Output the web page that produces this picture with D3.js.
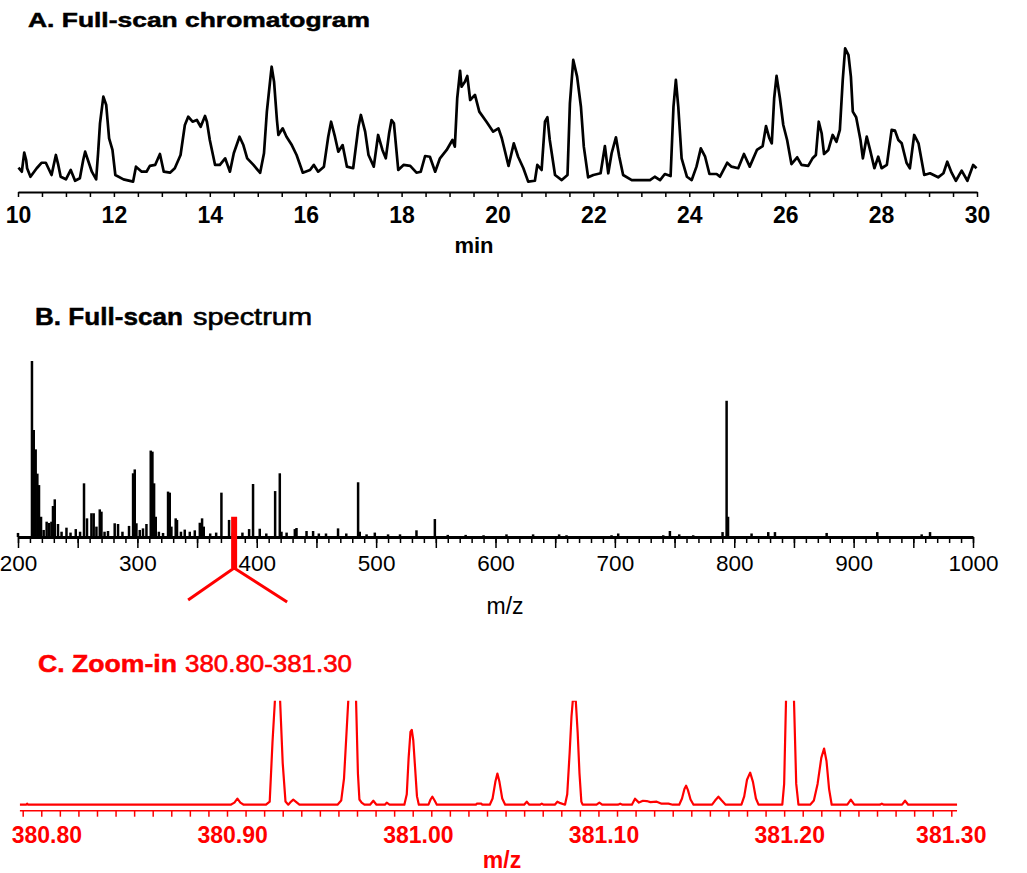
<!DOCTYPE html>
<html>
<head>
    <meta charset="utf-8" />
    <title>Full-scan chromatogram and spectrum</title>
    <script src="https://cdn.jsdelivr.net/npm/d3@7"></script>
    <style>
        body { margin: 0; background: #fff; }
        text { font-family: "Liberation Sans", Arial, sans-serif; }
    </style>
</head>
<body>
<div id="chart"></div>
<script>
    // A. full-scan chromatogram: [minutes, relative intensity]
    var chromatogram = [
        [10.01,16.9],[10.08,14.1],[10.13,27.3],[10.17,22.2],[10.19,16.5],[10.26,10.6],[10.39,16.5],[10.49,20.3],
        [10.58,20.3],[10.70,11.8],[10.79,25.7],[10.84,18.8],[10.89,10.6],[11.00,8.8],[11.10,15.3],[11.19,7.8],
        [11.29,9.5],[11.36,22.2],[11.40,28.0],[11.47,21.0],[11.54,14.1],[11.63,8.8],[11.67,26.9],[11.71,47.7],
        [11.78,66.2],[11.84,60.4],[11.90,37.3],[11.97,29.2],[12.03,11.8],[12.20,8.8],[12.40,7.2],[12.46,17.6],
        [12.58,14.1],[12.68,14.1],[12.75,18.1],[12.86,18.8],[12.96,26.4],[13.04,14.1],[13.17,13.4],[13.27,16.5],
        [13.39,25.7],[13.48,46.5],[13.55,52.3],[13.64,48.8],[13.73,50.0],[13.81,45.3],[13.90,52.8],[13.94,48.8],
        [14.00,36.1],[14.11,18.8],[14.21,18.8],[14.32,23.4],[14.42,14.1],[14.50,26.9],[14.62,38.4],[14.70,32.6],
        [14.78,23.4],[14.91,18.8],[15.01,14.8],[15.05,13.4],[15.13,26.9],[15.19,55.8],[15.26,77.8],[15.29,87.0],
        [15.34,76.6],[15.40,50.0],[15.43,39.6],[15.52,44.2],[15.60,38.4],[15.71,32.6],[15.81,25.7],[15.94,13.4],
        [16.09,15.3],[16.17,18.8],[16.26,14.1],[16.38,17.6],[16.47,38.4],[16.53,48.8],[16.61,38.4],[16.68,28.0],
        [16.77,32.6],[16.86,17.6],[16.99,16.5],[17.10,45.3],[17.15,53.5],[17.24,41.9],[17.31,25.7],[17.42,17.6],
        [17.51,39.6],[17.60,29.2],[17.67,23.4],[17.74,40.8],[17.79,50.0],[17.84,47.7],[17.93,15.3],[18.04,18.8],
        [18.18,18.1],[18.31,13.4],[18.40,14.1],[18.49,25.0],[18.59,24.5],[18.70,14.1],[18.80,23.4],[18.94,29.2],
        [19.06,36.1],[19.11,31.5],[19.16,65.1],[19.22,84.2],[19.25,73.1],[19.32,76.6],[19.37,80.6],[19.43,63.9],
        [19.53,67.4],[19.62,55.8],[19.77,48.8],[19.91,41.9],[20.02,44.2],[20.09,37.3],[20.23,18.1],[20.34,33.8],
        [20.43,24.5],[20.54,16.5],[20.64,7.2],[20.78,7.8],[20.83,18.8],[20.92,15.3],[20.99,48.8],[21.04,51.9],
        [21.09,36.1],[21.20,11.8],[21.34,8.3],[21.46,11.8],[21.51,61.6],[21.58,91.7],[21.66,80.1],[21.74,59.2],
        [21.80,31.5],[21.89,10.2],[22.00,11.8],[22.15,13.0],[22.24,31.9],[22.31,13.0],[22.38,26.9],[22.47,38.0],
        [22.54,24.5],[22.62,11.8],[22.80,8.3],[23.18,8.3],[23.28,10.6],[23.39,8.3],[23.49,12.5],[23.61,11.1],
        [23.67,59.2],[23.72,77.8],[23.77,59.2],[23.84,23.4],[23.95,10.6],[24.05,8.3],[24.15,17.6],[24.24,30.3],
        [24.33,24.5],[24.42,12.5],[24.57,12.5],[24.64,10.6],[24.79,20.3],[24.88,17.6],[25.02,16.5],[25.14,26.4],
        [25.26,17.6],[25.41,29.2],[25.53,31.9],[25.60,45.8],[25.67,37.3],[25.72,33.8],[25.77,65.1],[25.82,80.6],
        [25.89,65.1],[25.96,46.5],[26.04,36.1],[26.13,19.4],[26.25,24.1],[26.34,18.8],[26.48,18.1],[26.57,23.4],
        [26.64,25.7],[26.70,48.8],[26.76,40.8],[26.81,26.4],[26.90,29.2],[26.99,39.6],[27.07,34.9],[27.14,43.1],
        [27.20,77.8],[27.25,99.8],[27.32,95.1],[27.37,80.1],[27.41,55.8],[27.48,51.9],[27.57,36.1],[27.62,23.4],
        [27.70,38.4],[27.77,29.2],[27.86,16.5],[27.94,24.5],[28.01,16.5],[28.12,18.8],[28.22,43.1],[28.29,42.6],
        [28.36,36.1],[28.43,33.8],[28.53,20.3],[28.60,16.5],[28.69,39.6],[28.78,33.8],[28.90,11.8],[29.02,13.0],
        [29.19,10.2],[29.30,13.0],[29.38,21.0],[29.47,13.4],[29.56,7.8],[29.68,14.8],[29.80,7.8],[29.92,18.8],
        [29.99,16.5]
    ];
    var chromTicks = [10, 12, 14, 16, 18, 20, 22, 24, 26, 28, 30];

    // B. full-scan spectrum sticks: [m/z, relative intensity]
    var spectrum = [
        [200.0,2.3],[211.7,100],[213.2,60.8],[214.8,49.8],[216.2,36],[217.6,29.5],[219.3,11.5],[221.5,4],
        [224.0,8.7],[226.0,8.0],[228.0,8.7],[229.3,17.6],[230.8,21.4],[233.5,7.4],[236.5,3],[240.6,5.3],
        [244.0,2.5],[248.4,4.5],[252.0,3],[255.3,30.5],[257.8,10.6],[261.5,13.5],[263.4,13.5],[265.7,5.9],
        [268.5,15.7],[269.9,14.4],[272.5,3],[275.4,3.4],[281.0,7.8],[283.8,7.4],[287.5,3],[293.0,6.3],
        [296.4,36.2],[297.8,38.4],[299.2,7.8],[302.0,4],[304.7,4.9],[307.6,7.4],[311.2,49.1],[312.6,48.5],
        [314.0,30.5],[315.4,11.5],[318.0,3],[321.5,2.3],[325.7,25.8],[327.1,25.2],[328.5,5.9],[332.1,10.6],
        [333.2,9.7],[336.5,3],[339.7,4.2],[343.9,3.0],[348.1,3.8],[352.3,8.1],[354.2,10.6],[355.6,5.9],
        [361.0,2],[366.0,2.5],[370.4,25.2],[376.8,9.7],[380.0,2.5],[388.0,2.5],[393.6,4.5],[396.9,30.1],
        [402.5,4.7],[408.0,2],[415.4,26.1],[419.3,36.2],[420.7,3],[425.0,2.5],[431.9,4.5],[433.3,5.1],
        [441.7,3.4],[447.2,3.4],[452.0,2],[458.0,2],[468.1,4.9],[475.0,2],[484.9,31.1],[486.3,3],
        [492.0,1.5],[498.9,2.5],[510.0,1.5],[520.0,1.5],[533.8,3.8],[549.2,10.2],[560.0,1.2],[575.0,1.2],
        [590.0,1],[609.2,1.5],[631.5,1.5],[653.3,1.5],[659.5,1],[697.2,1],[702.8,2],[740.5,1],
        [746.1,3.4],[753.9,1.5],[765.6,1],[790.2,2.8],[793.6,77.4],[794.8,11.5],[814.5,2],[828.5,2.8],
        [834.1,2.8],[877.4,2.3],[919.8,2.8],[957.0,1.5],[964.0,2.8]
    ];
    var spectrumTicks = [200, 300, 400, 500, 600, 700, 800, 900, 1000];

    // C. zoom-in profile: [m/z, relative intensity], clipped at 100
    var zoomRange = [380.80, 381.30];
    var zoomProfile = [
        [380.7985,0],[380.8020,0],[380.8024,1],[380.8028,0],
        [380.9120,0],[380.9140,2],[380.9156,5.8],[380.9172,2],[380.9190,0],
        [380.9310,0],[380.9330,3],[380.9345,60],[380.9358,100],[380.9371,120],[380.9386,100],[380.9400,40],[380.9415,3],[380.9430,0],
        [380.9445,3],[380.9457,4.8],[380.9470,3],[380.9490,0],
        [380.9695,0],[380.9715,4],[380.9730,25],[380.9753,100],[380.9774,145],[380.9795,100],[380.9805,30],[380.9813,5],[380.9825,2],[380.9840,0],
        [380.9870,0],[380.9888,3.8],[380.9905,0],
        [380.9950,0],[380.9960,1.9],[380.9975,0],
        [381.0055,0],[381.0068,10],[381.0078,45],[381.0088,70],[381.0095,72],[381.0103,62],[381.0113,35],[381.0123,8],[381.0133,0],
        [381.0185,0],[381.0196,5],[381.0206,7.7],[381.0218,4],[381.0230,0],
        [381.0440,0],[381.0445,1],[381.0470,1],[381.0475,0],
        [381.0515,0],[381.0530,6],[381.0545,22],[381.0556,30],[381.0567,22],[381.0582,6],[381.0598,0],
        [381.0700,0],[381.0714,2.9],[381.0728,0],
        [381.0785,0],[381.0795,1],[381.0805,0],
        [381.0865,0],[381.0879,2.9],[381.0895,1.5],[381.0920,0],[381.0932,10],[381.0945,50],[381.0955,85],[381.0962,100],[381.0978,100],[381.0988,70],[381.0998,30],[381.1008,3],[381.1015,0],
        [381.1090,0],[381.1105,1.9],[381.1120,0],
        [381.1205,0],[381.1217,1],[381.1230,0],
        [381.1280,0],[381.1297,5.8],[381.1318,2],[381.1340,3.8],[381.1360,3.5],[381.1380,2.5],[381.1414,2.9],[381.1440,1],[381.1477,1],[381.1500,0],
        [381.1535,0],[381.1550,6],[381.1563,15],[381.1572,18.3],[381.1582,14],[381.1596,5],[381.1612,0],
        [381.1712,0],[381.1728,4],[381.1746,7.7],[381.1764,4],[381.1785,0],
        [381.1870,0],[381.1885,8],[381.1900,24],[381.1917,30.8],[381.1932,22],[381.1948,6],[381.1962,0],
        [381.2090,0],[381.2100,20],[381.2110,100],[381.2132,150],[381.2153,100],[381.2165,20],[381.2177,0],
        [381.2240,0],[381.2260,4],[381.2280,20],[381.2300,45],[381.2315,54],[381.2328,42],[381.2342,15],[381.2356,0],
        [381.2440,0],[381.2459,4.8],[381.2478,0],
        [381.2615,0],[381.2626,1],[381.2637,0],
        [381.2735,0],[381.2751,3.8],[381.2768,0],
        [381.3031,0]
    ];
    var zoomTicks = [380.80, 380.90, 381.00, 381.10, 381.20, 381.30];

    var w = 1027;
    var h = 873;
    var red = "#ff0000";

    var svg = d3.select("#chart")
        .append("svg")
        .attr("width", w)
        .attr("height", h);

    // titles, stretched a bit like the scanned original
    function title(str, x, y, size, weight, color, len) {
        return svg.append("text")
            .attr("x", x)
            .attr("y", y)
            .attr("font-size", size)
            .attr("font-weight", weight)
            .attr("fill", color)
            .attr("stroke", color)
            .attr("stroke-width", weight === "bold" ? 0.5 : 0.6)
            .attr("textLength", len)
            .attr("lengthAdjust", "spacingAndGlyphs")
            .text(str);
    }
    title("A. Full-scan chromatogram", 28, 27, 21, "bold", "#000", 342);
    title("B. Full-scan", 35, 325, 24.5, "bold", "#000", 148);
    title("spectrum", 193, 325, 24.5, "normal", "#000", 119);
    title("C. Zoom-in", 38, 672, 24, "bold", red, 139);
    title("380.80-381.30", 185, 672, 24, "normal", red, 167);

    // ---------- A ----------
    var xA = d3.scaleLinear().domain([10, 30]).range([18, 977]);
    var yA = d3.scaleLinear().domain([0, 100]).range([192, 48]);

    var axisA = svg.append("g")
        .attr("transform", "translate(0,192)")
        .call(d3.axisBottom(xA)
            .tickValues(d3.range(10, 30.5, 0.5))
            .tickSize(5)
            .tickSizeOuter(0)
            .tickPadding(10)
            .tickFormat(function (d) { return chromTicks.indexOf(d) >= 0 ? d : ""; }));
    axisA.attr("font-size", 23).attr("font-weight", "bold").attr("font-family", null);
    axisA.select(".domain").attr("stroke-width", 2);
    axisA.selectAll(".tick line").attr("stroke-width", 1.5);
    axisA.selectAll(".tick text").attr("fill", "#000");

    svg.append("path")
        .datum(chromatogram)
        .attr("fill", "none")
        .attr("stroke", "#000")
        .attr("stroke-width", 2.7)
        .attr("stroke-linejoin", "round")
        .attr("d", d3.line()
            .x(function (d) { return xA(d[0]); })
            .y(function (d) { return yA(d[1]); }));

    svg.append("text")
        .attr("x", 474)
        .attr("y", 253)
        .attr("text-anchor", "middle")
        .attr("font-size", 22)
        .attr("font-weight", "bold")
        .text("min");

    // ---------- B ----------
    var xB = d3.scaleLinear().domain([200, 1000]).range([18, 973]);
    var yB = d3.scaleLinear().domain([0, 100]).range([537, 361]);

    var minorB = svg.append("g")
        .attr("transform", "translate(0,537)")
        .call(d3.axisBottom(xB)
            .tickValues(d3.range(200, 1001, 10))
            .tickSize(6)
            .tickSizeOuter(0)
            .tickFormat(""));
    minorB.select(".domain").remove();
    minorB.selectAll(".tick line").attr("stroke-width", 1.5);

    var majorB = svg.append("g")
        .attr("transform", "translate(0,537)")
        .call(d3.axisBottom(xB)
            .tickValues(d3.range(200, 1001, 50))
            .tickSize(11)
            .tickSizeOuter(0)
            .tickPadding(7)
            .tickFormat(function (d) { return spectrumTicks.indexOf(d) >= 0 ? d : ""; }));
    majorB.attr("font-size", 22.5).attr("font-family", null);
    majorB.select(".domain").attr("stroke-width", 3);
    majorB.selectAll(".tick line").attr("stroke-width", 1.5);
    majorB.selectAll(".tick text").attr("fill", "#000");

    svg.selectAll("line.stick")
        .data(spectrum)
        .enter()
        .append("line")
        .attr("class", "stick")
        .attr("x1", function (d) { return xB(d[0]); })
        .attr("x2", function (d) { return xB(d[0]); })
        .attr("y1", yB(0))
        .attr("y2", function (d) { return yB(d[1]); })
        .attr("stroke", "#000")
        .attr("stroke-width", 2.5);

    svg.append("text")
        .attr("x", 505)
        .attr("y", 614)
        .attr("text-anchor", "middle")
        .attr("font-size", 23)
        .text("m/z");

    // red marker pointing at the zoomed window
    var markX = xB(d3.mean(zoomRange));
    var markY = yB(0) + 31;
    svg.append("line")
        .attr("x1", markX).attr("x2", markX)
        .attr("y1", yB(11.5)).attr("y2", markY)
        .attr("stroke", red).attr("stroke-width", 6);
    svg.append("path")
        .attr("d", "M" + (markX - 46) + "," + (markY + 32) + "L" + markX + "," + markY + "L" + (markX + 53) + "," + (markY + 34))
        .attr("fill", "none")
        .attr("stroke", red)
        .attr("stroke-width", 3);

    // ---------- C ----------
    var xC = d3.scaleLinear().domain(zoomRange).range([22.7, 951.3]);
    var yC = d3.scaleLinear().domain([0, 100]).range([804.7, 700.7]);

    svg.append("clipPath")
        .attr("id", "clipC")
        .append("rect")
        .attr("x", 0).attr("y", yC(100))
        .attr("width", w).attr("height", h - yC(100));

    svg.append("path")
        .datum(zoomProfile)
        .attr("clip-path", "url(#clipC)")
        .attr("fill", "none")
        .attr("stroke", red)
        .attr("stroke-width", 2.2)
        .attr("stroke-linejoin", "round")
        .attr("d", d3.line()
            .x(function (d) { return xC(d[0]); })
            .y(function (d) { return yC(d[1]); }));

    var axisCy = 810.7;
    svg.append("line")
        .attr("x1", xC(zoomProfile[0][0]))
        .attr("x2", xC(zoomProfile[zoomProfile.length - 1][0]))
        .attr("y1", axisCy).attr("y2", axisCy)
        .attr("stroke", red).attr("stroke-width", 1.5);

    var axisC = svg.append("g")
        .attr("transform", "translate(0," + axisCy + ")")
        .call(d3.axisBottom(xC)
            .tickValues(d3.range(0, 51).map(function (i) { return 380.80 + i / 100; }))
            .tickSize(6)
            .tickSizeOuter(0)
            .tickFormat(""));
    axisC.select(".domain").remove();
    axisC.selectAll(".tick line").attr("stroke", red).attr("stroke-width", 1.5);

    // the original sets its labels right of their ticks, the last one is pulled back
    svg.selectAll("text.zl")
        .data(zoomTicks)
        .enter()
        .append("text")
        .attr("class", "zl")
        .attr("x", function (d, i) { return i === zoomTicks.length - 1 ? xC(d) : xC(d) - 11; })
        .attr("y", 843)
        .attr("text-anchor", function (d, i) { return i === zoomTicks.length - 1 ? "middle" : "start"; })
        .attr("font-size", 23)
        .attr("font-weight", "bold")
        .attr("fill", red)
        .text(function (d) { return d.toFixed(2); });

    svg.append("text")
        .attr("x", 502)
        .attr("y", 868)
        .attr("text-anchor", "middle")
        .attr("font-size", 23)
        .attr("font-weight", "bold")
        .attr("fill", red)
        .text("m/z");
</script>
</body>
</html>
